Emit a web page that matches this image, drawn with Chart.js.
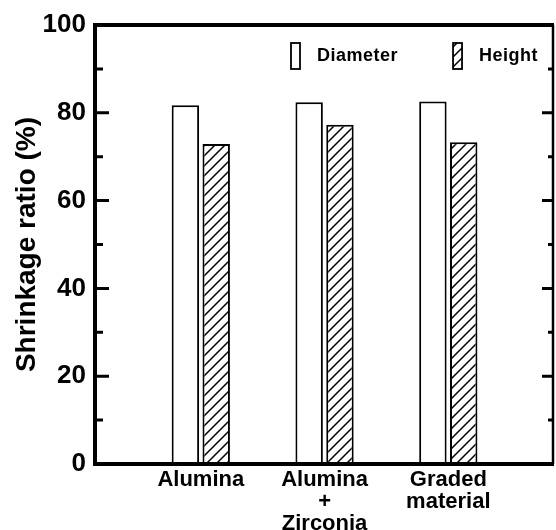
<!DOCTYPE html>
<html>
<head>
<meta charset="utf-8">
<script src="https://cdn.jsdelivr.net/npm/chart.js@4/dist/chart.umd.min.js"></script>
<style>
  html, body { margin: 0; padding: 0; background: #fff; }
  canvas { display: block; }
</style>
</head>
<body>
<canvas id="chart_id" width="556" height="530"></canvas>
<script>
const categories = [['Alumina'], ['Alumina', '+', 'Zirconia'], ['Graded', 'material']];
const diameter = [81.7, 82.4, 82.6];
const height = [72.9, 77.3, 73.3];
const yTicks = [0, 10, 20, 30, 40, 50, 60, 70, 80, 90, 100];

const labelFont = "'Liberation Sans', Arial, Helvetica, sans-serif";

// diagonal hatch for the Height bars
function makeHatch() {
  const tile = document.createElement('canvas');
  tile.width = 10;
  tile.height = 10;
  const c = tile.getContext('2d');
  c.fillStyle = '#fff';
  c.fillRect(0, 0, 10, 10);
  c.strokeStyle = '#000';
  c.lineWidth = 1.5;
  c.beginPath();
  c.moveTo(-1, 11); c.lineTo(11, -1);
  c.moveTo(-6, 6); c.lineTo(6, -6);
  c.moveTo(4, 16); c.lineTo(16, 4);
  c.stroke();
  return c.createPattern(tile, 'repeat');
}
const hatch = makeHatch();

// frame + inward ticks on both sides
const framePlugin = {
  id: 'framePlugin',
  afterDraw(chart) {
    const { ctx, chartArea } = chart;
    const y = chart.scales.y;
    ctx.save();
    ctx.strokeStyle = '#000';
    ctx.lineWidth = 4;
    ctx.beginPath();
    ctx.moveTo(chartArea.left - 2, chartArea.top);
    ctx.lineTo(chartArea.right + 1, chartArea.top);
    ctx.stroke();
    ctx.lineWidth = 2.5;
    ctx.beginPath();
    ctx.moveTo(chartArea.right, chartArea.top);
    ctx.lineTo(chartArea.right, chartArea.bottom);
    ctx.stroke();
    ctx.lineWidth = 3;
    y.ticks.forEach(t => {
      const py = y.getPixelForValue(t.value);
      const major = t.value % 20 === 0;
      ctx.beginPath();
      ctx.moveTo(chartArea.left, py);
      ctx.lineTo(chartArea.left + (major ? 14 : 8), py);
      ctx.moveTo(chartArea.right, py);
      ctx.lineTo(chartArea.right - (major ? 11 : 5), py);
      ctx.stroke();
    });
    ctx.restore();
  }
};

// legend drawn inside the plot area
const legendPlugin = {
  id: 'legendPlugin',
  afterDraw(chart) {
    const { ctx, chartArea } = chart;
    ctx.save();
    ctx.font = 'bold 18px ' + labelFont;
    ctx.letterSpacing = '0.5px';
    ctx.textBaseline = 'middle';
    ctx.textAlign = 'left';
    let x = chartArea.left + 196;
    const top = chartArea.top + 18;
    chart.data.datasets.forEach(ds => {
      ctx.fillStyle = ds.backgroundColor;
      ctx.fillRect(x, top, 9, 26);
      ctx.strokeStyle = '#000';
      ctx.lineWidth = 1.8;
      ctx.strokeRect(x, top, 9, 26);
      ctx.fillStyle = '#000';
      ctx.fillText(ds.label, x + 26, top + 13.5);
      x += 26 + ctx.measureText(ds.label).width + 55;
    });
    ctx.restore();
  }
};

const ctx = document.getElementById('chart_id');
new Chart(ctx, {
  type: 'bar',
  data: {
    datasets: [{
      label: 'Diameter',
      data: diameter.map((v, i) => ({ x: i + 1, y: v })),
      backgroundColor: '#fff',
      borderColor: '#000',
      borderWidth: 2,
      borderSkipped: false
    }, {
      label: 'Height',
      data: height.map((v, i) => ({ x: i + 1, y: v })),
      backgroundColor: hatch,
      borderColor: '#000',
      borderWidth: 2,
      borderSkipped: false
    }]
  },
  options: {
    responsive: false,
    animation: false,
    events: [],
    categoryPercentage: 0.498,
    barPercentage: 0.89,
    layout: { padding: { top: 25, right: 3, left: 0, bottom: 0 } },
    plugins: {
      legend: { display: false },
      tooltip: { enabled: false }
    },
    scales: {
      x: {
        type: 'linear',
        min: 0.145,
        max: 3.846,
        offset: false,
        grid: { display: false, drawTicks: false },
        border: { display: true, color: '#000', width: 4 },
        afterBuildTicks: (scale) => {
          scale.ticks = categories.map((c, i) => ({ value: i + 1 }));
        },
        afterFit: (scale) => { scale.height = 66; },
        ticks: {
          autoSkip: false,
          maxRotation: 0,
          padding: 5,
          color: '#000',
          font: { family: labelFont, size: 22, weight: 'bold', lineHeight: 1 },
          callback: (value) => categories[value - 1]
        }
      },
      y: {
        min: 0,
        max: 100,
        grid: { display: false, drawTicks: false },
        border: { display: true, color: '#000', width: 4 },
        afterBuildTicks: (scale) => {
          scale.ticks = yTicks.map(v => ({ value: v }));
        },
        afterFit: (scale) => { scale.width = 95; },
        ticks: {
          autoSkip: false,
          padding: 9,
          color: '#000',
          font: { family: labelFont, size: 26, weight: 'bold' },
          callback: (value) => (value % 20 === 0 ? value : '')
        },
        title: {
          display: true,
          text: 'Shrinkage ratio (%)',
          color: '#000',
          padding: { top: 10, bottom: 0 },
          font: { family: labelFont, size: 28, weight: 'bold' }
        }
      }
    }
  },
  plugins: [framePlugin, legendPlugin]
});
</script>
</body>
</html>
